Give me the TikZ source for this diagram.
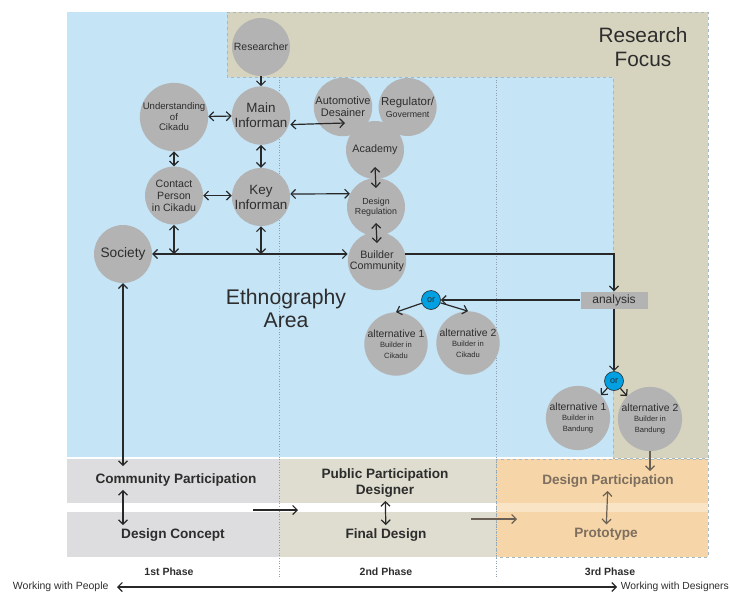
\documentclass[tikz,border=0pt]{standalone}
\usepackage{fontspec}
\setmainfont{Liberation Sans}
\usetikzlibrary{positioning,arrows.meta}

\definecolor{blueBg}{RGB}{197,228,246}
\definecolor{tanBg}{RGB}{214,211,190}
\definecolor{circGray}{RGB}{179,179,179}
\definecolor{rowGray}{RGB}{221,221,223}
\definecolor{rowTan}{RGB}{223,221,208}
\definecolor{rowOrange}{RGB}{246,214,168}
\definecolor{stripOrange}{RGB}{250,228,198}
\definecolor{orBlue}{RGB}{0,160,226}
\definecolor{txtDark}{RGB}{45,45,45}
\definecolor{txtBrown}{RGB}{125,110,95}
\definecolor{brownLine}{RGB}{105,95,85}
\definecolor{dashCol}{RGB}{165,185,195}
\definecolor{dotCol}{RGB}{140,160,175}
\definecolor{lineDark}{RGB}{40,40,40}

\newcommand{\fsz}[2]{\fontsize{#1}{#2}\selectfont}

\begin{document}
\begin{tikzpicture}[x=1pt, y=-1pt, node distance=10pt,
    >={Straight Barb[length=4.5pt,width=9pt]},
    circ/.style={circle, fill=circGray, minimum size=58pt, inner sep=0pt, align=center, text=txtDark},
    orNode/.style={circle, fill=orBlue, draw=lineDark, line width=0.6pt, minimum size=19pt, inner sep=0pt, font=\fsz{9}{10}, text=txtDark},
    anal/.style={rectangle, fill=circGray, minimum width=67pt, minimum height=17pt, inner sep=0pt, font=\fsz{12}{14}, text=txtDark},
    link/.style={draw=lineDark, line width=1.2pt},
    rowText/.style={font=\bfseries\fsz{13.6}{16}, text=txtDark, align=center},
    phase/.style={font=\bfseries\fsz{10.5}{12}, text=txtDark},
    dashBorder/.style={draw=dashCol, dashed, line width=0.8pt},
    phaseLine/.style={draw=dotCol, dotted, line width=0.6pt}]
    \useasboundingbox (0,0) rectangle (730,592);

    \fill[blueBg] (67,12) rectangle (613,457);
    \fill[tanBg] (227,12) -- (708,12) -- (708,458) -- (613,458) -- (613,77) -- (227,77) -- cycle;
    \draw[dashBorder] (227,12) -- (708,12) -- (708,458) -- (613,458) -- (613,77) -- (227,77) -- cycle;

    \fill[rowGray] (67,459) rectangle (279,503);
    \fill[rowTan] (279,459) rectangle (496,503);
    \fill[rowGray] (67,512) rectangle (279,557);
    \fill[rowTan] (279,512) rectangle (496,557);
    \fill[rowOrange] (496,459) rectangle (708,557);
    \fill[stripOrange] (496,503) rectangle (708,512);
    \draw[dashBorder] (496,459) rectangle (708,557);

    \draw[phaseLine] (279,77) -- (279,577);
    \draw[phaseLine] (496,77) -- (496,577);

    \node[circ, font=\fsz{10.5}{12}] (researcher) at (261,47) {Researcher};
    \node[circ, font=\fsz{13.4}{15}, below = 10pt of researcher] (mainInf) {Main\\Informan};
    \node[circ, font=\fsz{9.6}{10.5}] (underst) at (174,117) {Understanding\\of\\Cikadu};
    \node[circ, font=\fsz{10.6}{12}, below = 15pt of underst] (contact) {Contact\\Person\\in Cikadu};
    \node[circ, font=\fsz{13.4}{15}] (keyInf) at (261,197) {Key\\Informan};
    \node[circ, font=\fsz{13.7}{15}] (society) at (123,254) {Society};
    \node[circ, font=\fsz{11}{12}] (autoDes) at (343,107) {Automotive\\Desainer};
    \node[circ, font=\fsz{11.5}{12}, right = 6pt of autoDes] (regGov) {Regulator/\\{\fsz{8.8}{10}Goverment}};
    \node[circ, font=\fsz{10.8}{12}] (academy) at (375,150) {Academy};
    \node[circ, font=\fsz{8.8}{10}] (desReg) at (376,207) {Design\\Regulation};
    \node[circ, font=\fsz{10.7}{11.5}] (builderCom) at (377,261) {Builder\\Community};

    \node[anal] (analysis) at (614,300) {analysis};
    \node[orNode] (or1) at (431,300) {or};
    \node[circ, font=\fsz{10.4}{10.5}] (alt1C) at (396,344) {alternative 1\\{\fsz{7.6}{9}Builder in}\\{\fsz{7.6}{9}Cikadu}};
    \node[circ, font=\fsz{10.4}{10.5}] (alt2C) at (468,343) {alternative 2\\{\fsz{7.6}{9}Builder in}\\{\fsz{7.6}{9}Cikadu}};
    \node[orNode] (or2) at (614,381) {or};
    \node[circ, font=\fsz{10.4}{10.5}] (alt1B) at (578,418) {alternative 1\\{\fsz{7.6}{9}Builder in}\\{\fsz{7.6}{9}Bandung}};
    \node[circ, font=\fsz{10.4}{10.5}] (alt2B) at (650,419) {alternative 2\\{\fsz{7.6}{9}Builder in}\\{\fsz{7.6}{9}Bandung}};

    \node[font=\fsz{20.8}{24.5}, align=center, text=txtDark] (resFocus) at (643,47) {Research\\Focus};
    \node[font=\fsz{21.2}{23}, align=center, text=txtDark] (ethno) at (286,308) {Ethnography\\Area};

    \node[rowText] (comPart) at (176,480) {Community Participation};
    \node[rowText] (desConcept) at (173,535) {Design Concept};
    \node[rowText] (pubPart) at (385,483) {Public Participation\\Designer};
    \node[rowText] (finalDes) at (386,535) {Final Design};
    \node[rowText, text=txtBrown] (desPart) at (608,481) {Design Participation};
    \node[rowText, text=txtBrown] (proto) at (606,534) {Prototype};

    \node[phase] (phase1) at (169,572) {1st Phase};
    \node[phase] (phase2) at (386,572) {2nd Phase};
    \node[phase] (phase3) at (610,572) {3rd Phase};
    \node[font=\fsz{10.5}{12}, text=txtDark, anchor=east] (wPeople) at (112,587) {Working with People};
    \node[font=\fsz{10.3}{12}, text=txtDark, anchor=east, inner sep=0.5pt] (wDesigners) at (729.5,587) {Working with Designers};

    \draw[link, ->] (researcher) -- (mainInf);
    \draw[link, <->] (underst) -- (mainInf);
    \draw[link, <->] (underst) -- (contact);
    \draw[link, <->] (mainInf) -- (keyInf);
    \draw[link, <->] (contact.east) -- (contact.east -| keyInf.west);
    \draw[link, <->] ([yshift=-9pt]mainInf.east) -- ([shift={(2pt,-16pt)}]autoDes.center);
    \draw[link, <->] ([yshift=3pt]keyInf.east) -- (desReg.153);
    \draw[link, <->] ([yshift=-17pt]academy.center) -- ([yshift=19pt]desReg.center);
    \draw[link, <->] ([yshift=-16pt]desReg.center) -- ([yshift=18pt]builderCom.center);
    \draw[link, <->] (society.east) -- (society.east -| builderCom.west);
    \draw[link, <->] (contact) -- (contact |- society.east);
    \draw[link, <->] (keyInf) -- (keyInf |- society.east);
    \draw[link, <->] (society) -- ([yshift=4pt]society |- comPart.north);
    \draw[link, <->] (comPart.south -| society) -- (desConcept.north -| society);

    \draw[link, ->] (builderCom.14) -| (analysis.north);
    \draw[link, ->] (analysis) -- (or1);
    \draw[link, ->] (or1) -- (alt1C.north);
    \draw[link, ->] (or1) -- (alt2C.north);
    \draw[link, ->] (analysis) -- (or2);
    \draw[link, ->] (or2) -- (alt1B.45);
    \draw[link, ->] (or2) -- (alt2B.135);
    \draw[link, ->, draw=brownLine] (alt2B) -- (alt2B |- desPart.north);

    \draw[link, <->] (pubPart) -- (finalDes);
    \draw[link, <->, draw=brownLine] (desPart) -- (proto);
    \coordinate (toPhaseTwoA) at (253,510);
    \coordinate (toPhaseTwoB) at (298,510);
    \coordinate (toPhaseThreeA) at (471,519);
    \coordinate (toPhaseThreeB) at (517,519);
    \draw[link, ->] (toPhaseTwoA) -- (toPhaseTwoB);
    \draw[link, ->, draw=brownLine] (toPhaseThreeA) -- (toPhaseThreeB);
    \draw[link, <->, shorten <=5pt, shorten >=3pt] (wPeople) -- (wDesigners);
\end{tikzpicture}
\end{document}
